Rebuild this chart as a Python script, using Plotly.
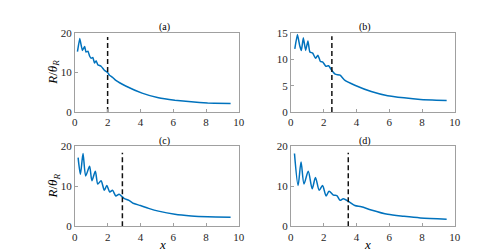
import plotly.graph_objects as go

# ---- data ----
xa = [0.16, 0.3, 0.46, 0.6, 0.68, 0.8, 0.9, 1.0, 1.1, 1.2, 1.3, 1.4, 1.6, 1.8, 2.0, 2.1, 2.3, 2.5, 3.1, 4.1, 5.1, 6.1, 7.1, 8.1, 9.5]
ya = [15.3, 18.6, 15.6, 16.6, 15.2, 15.4, 14.2, 13.6, 13.8, 12.4, 13.0, 12.0, 11.6, 10.6, 10.0, 9.4, 8.8, 8.0, 6.6, 4.8, 3.6, 3.0, 2.6, 2.3, 2.2]

xb = [0.24, 0.4, 0.54, 0.64, 0.76, 0.9, 1.04, 1.16, 1.33, 1.5, 1.65, 1.8, 1.95, 2.13, 2.3, 2.5, 2.7, 3.0, 3.3, 3.9, 4.9, 5.9, 6.9, 7.9, 9.5]
yb = [12.0, 14.7, 12.6, 11.7, 14.1, 11.7, 13.5, 11.4, 11.2, 10.2, 10.8, 9.6, 9.5, 8.7, 8.8, 7.9, 7.2, 7.0, 6.0, 5.1, 3.9, 3.1, 2.7, 2.4, 2.2]

xc = [0.2, 0.34, 0.5, 0.66, 0.9, 1.04, 1.25, 1.4, 1.6, 1.8, 1.95, 2.13, 2.3, 2.5, 2.7, 3.0, 3.3, 3.6, 4.0, 4.5, 5.1, 6.1, 7.1, 8.1, 9.5]
yc = [17.2, 13.0, 18.2, 12.6, 15.0, 11.4, 13.8, 10.6, 11.4, 9.0, 10.2, 8.6, 9.0, 7.6, 8.0, 7.0, 6.5, 5.7, 5.2, 4.5, 3.8, 3.0, 2.6, 2.4, 2.3]

xd = [0.22, 0.44, 0.62, 0.8, 1.06, 1.3, 1.5, 1.73, 1.93, 2.15, 2.33, 2.6, 2.8, 3.0, 3.2, 3.6, 3.9, 4.3, 4.9, 5.9, 6.9, 7.9, 9.5]
yd = [18.2, 10.2, 16.1, 10.6, 13.8, 9.4, 12.2, 9.0, 10.2, 7.6, 8.8, 7.8, 7.7, 6.5, 6.9, 6.0, 5.2, 4.9, 4.1, 3.0, 2.5, 2.1, 1.8]

cut_x = [2.0, 2.5, 2.9, 3.5]        # dashed vertical markers
cut_top = [19.0, 14.4, 18.4, 18.4]  # top end of dashed markers

panel_titles = ["(a)", "(b)", "(c)", "(d)"]
y_ranges = [[0, 20], [0, 15], [0, 20], [0, 20]]
y_ticks = [[0, 10, 20], [0, 5, 10, 15], [0, 10, 20], [0, 10, 20]]
x_ticks = [0, 2, 4, 6, 8, 10]

W, H = 500, 251
FONT = "Liberation Serif, Times New Roman, DejaVu Serif, serif"
BLUE = "#0072BD"
smooth = [0.3, 0.4, 0.7, 0.8]

# plot boxes in pixels (left, right, top, bottom)
boxes = [(65, 232, 20, 103), (285, 452, 20, 103), (65, 232, 139, 223), (285, 452, 139, 223)]

fig = go.Figure()
series = [(xa, ya), (xb, yb), (xc, yc), (xd, yd)]
for i, (xs, ys) in enumerate(series):
    ax = "" if i == 0 else str(i + 1)
    fig.add_trace(go.Scatter(x=xs, y=ys, mode="lines",
                             line=dict(color=BLUE, width=1.5, shape="spline", smoothing=smooth[i]),
                             xaxis="x" + ax, yaxis="y" + ax, showlegend=False, hoverinfo="skip"))
    fig.add_trace(go.Scatter(x=[cut_x[i], cut_x[i]], y=[0, cut_top[i]], mode="lines",
                             line=dict(color="#111111", width=1.5, dash="5px,3px"),
                             xaxis="x" + ax, yaxis="y" + ax, showlegend=False, hoverinfo="skip"))

layout = dict(width=W, height=H, margin=dict(l=0, r=0, t=0, b=0),
              plot_bgcolor="white", paper_bgcolor="white",
              font=dict(family=FONT, size=11, color="#262626"))
annotations = []
for i, (l, r, t, b) in enumerate(boxes):
    ax = "" if i == 0 else str(i + 1)
    common = dict(showline=True, mirror=True, linecolor="#a0a0a0", linewidth=1, ticks="inside", ticklen=3,
                  tickcolor="#a0a0a0", showgrid=False, zeroline=False,
                  tickfont=dict(family=FONT, size=11, color="#262626"))
    layout["xaxis" + ax] = dict(domain=[l / W, r / W], range=[0, 10], tickvals=x_ticks,
                                anchor="y" + ax, **common)
    layout["yaxis" + ax] = dict(domain=[1 - b / H, 1 - t / H], range=y_ranges[i], tickvals=y_ticks[i],
                                anchor="x" + ax, **common)
    cx = (l + r) / 2 / W
    annotations.append(dict(text=panel_titles[i], x=cx, y=1 - (t - 6) / H, xref="paper", yref="paper",
                            showarrow=False, font=dict(family=FONT, size=10, color="black"), yanchor="middle"))
    if i in (2, 3):
        annotations.append(dict(text="<i>x</i>", x=cx, y=1 - 242 / H, xref="paper", yref="paper",
                                showarrow=False, font=dict(family=FONT, size=13, color="black"), yanchor="middle"))
    if i in (0, 2):
        annotations.append(dict(text="<i>R</i>/<i>θ</i><sub><i>R</i></sub>", x=43 / W, y=1 - (t + b) / 2 / H,
                                xref="paper", yref="paper", textangle=-90, showarrow=False,
                                font=dict(family=FONT, size=13, color="black"), xanchor="center", yanchor="middle"))
layout["annotations"] = annotations
fig.update_layout(**layout)
fig.write_html("out.html")
